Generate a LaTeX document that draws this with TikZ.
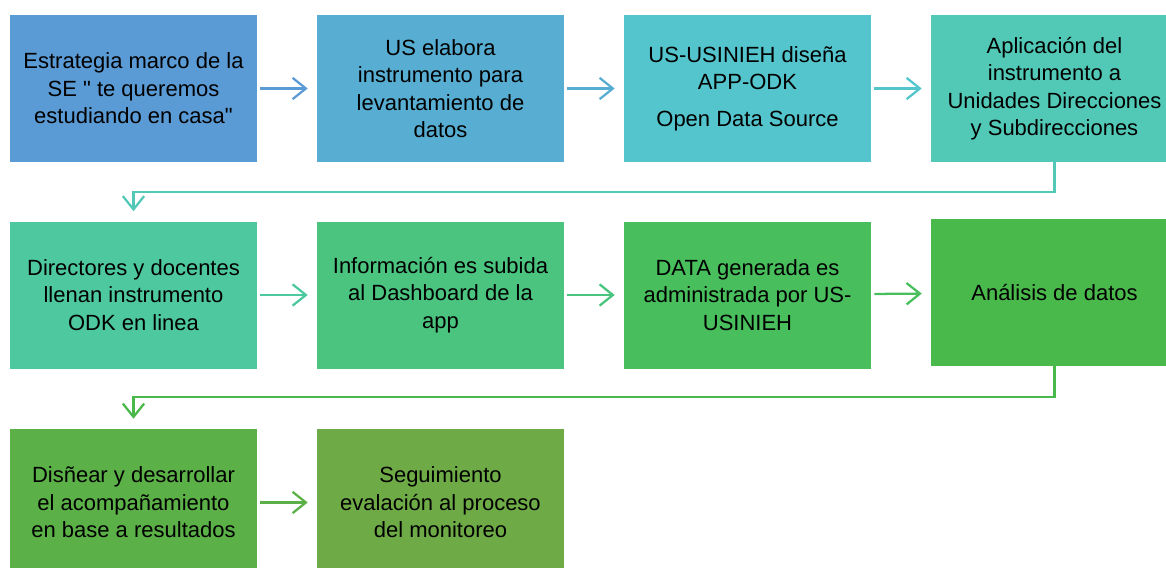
\documentclass[tikz,border=0pt]{standalone}
\usepackage{fontspec}
\setmainfont{Liberation Sans}
\usetikzlibrary{arrows.meta}

\definecolor{cA}{RGB}{91,155,213}
\definecolor{cB}{RGB}{87,174,210}
\definecolor{cC}{RGB}{84,197,205}
\definecolor{cD}{RGB}{82,201,182}
\definecolor{cE}{RGB}{78,201,159}
\definecolor{cF}{RGB}{74,196,127}
\definecolor{cG}{RGB}{72,191,92}
\definecolor{cH}{RGB}{74,185,75}
\definecolor{cI}{RGB}{91,177,71}
\definecolor{cJ}{RGB}{110,171,71}

\begin{document}
\begin{tikzpicture}[x=0.75pt,y=0.75pt,yscale=-1,xscale=1,
    box/.style={rectangle, draw=none, minimum width=185.25pt, minimum height=110.25pt,
                inner sep=0pt, align=center, font=\fontsize{16.5}{20.6}\selectfont},
    flow/.style={line width=1.7pt, -{Straight Barb[length=10pt,width=16pt,line width=1.7pt]},
                 shorten <=2.25pt, shorten >=6.75pt},
    turn/.style={line width=1.7pt, -{Straight Barb[length=10pt,width=16pt,line width=1.7pt]},
                 shorten >=7.5pt}]
    \useasboundingbox (0,0) rectangle (1166,567);
    % first row
    \node [box, fill=cA] (estrategia) at (133.5,88.5) {Estrategia marco de la\\SE \textquotedbl{} te queremos\\estudiando en casa\textquotedbl};
    \node [box, fill=cB] (elabora) at (440.5,88.5) {US elabora\\instrumento para\\levantamiento de\\datos};
    \node [box, fill=cC] (disena) at (747.5,88.5) {US-USINIEH diseña\\APP-ODK\\[7pt]Open Data Source};
    \node [box, fill=cD] (aplicacion) at (1054.5,88.5) {Aplicación del\\instrumento a\\Unidades Direcciones\\y Subdirecciones};
    % second row
    \node [box, fill=cE] (llenan) at (133.5,295) {Directores y docentes\\llenan instrumento\\ODK en linea};
    \node [box, fill=cF] (subida) at (440.5,295) {Información es subida\\al Dashboard de la\\app};
    \node [box, fill=cG] (data) at (747.5,295) {DATA generada es\\administrada por US-\\USINIEH};
    \node [box, fill=cH] (analisis) at (1054.5,292.5) {Análisis de datos};
    % third row
    \node [box, fill=cI] (acompana) at (133.5,502.5) {Disñear y desarrollar\\el acompañamiento\\en base a resultados};
    \node [box, fill=cJ] (seguimiento) at (440.5,502.5) {Seguimiento\\evalación al proceso\\del monitoreo};

    \draw [flow, cA] (estrategia) -- (elabora);
    \draw [flow, cB] (elabora) -- (disena);
    \draw [flow, cC] (disena) -- (aplicacion);
    \draw [turn, cD] (aplicacion.south) -- ++(0,30) -| (llenan.north);
    \draw [flow, cE] (llenan) -- (subida);
    \draw [flow, cF] (subida) -- (data);
    \draw [flow, cG] (data) -- (analisis);
    \draw [turn, cH] (analisis.south) -- ++(0,31) -| (acompana.north);
    \draw [flow, cI] (acompana) -- (seguimiento);
\end{tikzpicture}
\end{document}
